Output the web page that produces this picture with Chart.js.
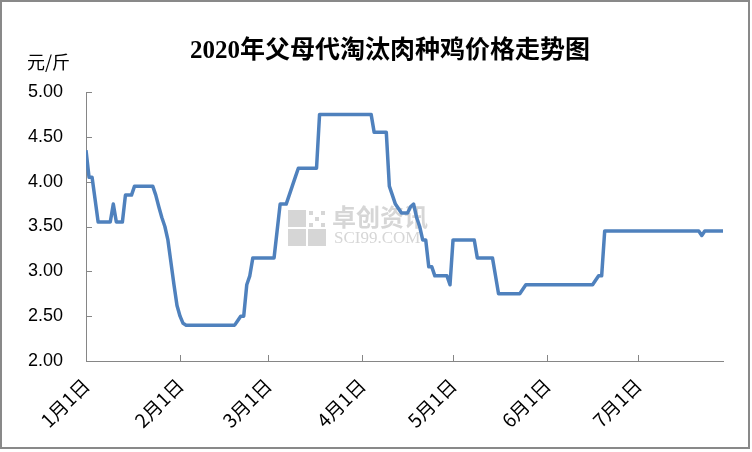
<!DOCTYPE html>
<html>
<head>
<meta charset="utf-8">
<script src="https://cdn.jsdelivr.net/npm/chart.js@4"></script>
<style>
  html, body { margin: 0; padding: 0; background: #fff; }
  #wrap { width: 752px; height: 452px; }
</style>
</head>
<body>
<div id="wrap"><canvas id="line-chart" width="752" height="452"></canvas></div>
<script>
// daily prices from 1月1日 (day 0) to 7月29日 (day 210), 元/斤
var prices = [
  4.35,4.05,4.05,3.8,3.55,3.55,3.55,3.55,3.55,3.75,
  3.55,3.55,3.55,3.85,3.85,3.85,3.95,3.95,3.95,3.95,
  3.95,3.95,3.95,3.85,3.72,3.6,3.5,3.35,3.1,2.85,
  2.62,2.5,2.42,2.4,2.4,2.4,2.4,2.4,2.4,2.4,
  2.4,2.4,2.4,2.4,2.4,2.4,2.4,2.4,2.4,2.4,
  2.45,2.5,2.5,2.85,2.95,3.15,3.15,3.15,3.15,3.15,
  3.15,3.15,3.15,3.45,3.75,3.75,3.75,3.85,3.95,4.05,
  4.15,4.15,4.15,4.15,4.15,4.15,4.15,4.75,4.75,4.75,
  4.75,4.75,4.75,4.75,4.75,4.75,4.75,4.75,4.75,4.75,
  4.75,4.75,4.75,4.75,4.75,4.55,4.55,4.55,4.55,4.55,
  3.95,3.85,3.75,3.7,3.65,3.65,3.65,3.72,3.75,3.6,
  3.5,3.35,3.35,3.05,3.05,2.95,2.95,2.95,2.95,2.95,
  2.85,3.35,3.35,3.35,3.35,3.35,3.35,3.35,3.35,3.15,
  3.15,3.15,3.15,3.15,3.15,2.95,2.75,2.75,2.75,2.75,
  2.75,2.75,2.75,2.75,2.8,2.85,2.85,2.85,2.85,2.85,
  2.85,2.85,2.85,2.85,2.85,2.85,2.85,2.85,2.85,2.85,
  2.85,2.85,2.85,2.85,2.85,2.85,2.85,2.85,2.9,2.95,
  2.95,3.45,3.45,3.45,3.45,3.45,3.45,3.45,3.45,3.45,
  3.45,3.45,3.45,3.45,3.45,3.45,3.45,3.45,3.45,3.45,
  3.45,3.45,3.45,3.45,3.45,3.45,3.45,3.45,3.45,3.45,
  3.45,3.45,3.45,3.4,3.45,3.45,3.45,3.45,3.45,3.45,
  3.45
];
// day index of each month start and its label
var monthDays = [0, 31, 60, 91, 121, 152, 182];
var monthLabels = ['1月1日', '2月1日', '3月1日', '4月1日', '5月1日', '6月1日', '7月1日'];
var yTicks = [2.0, 2.5, 3.0, 3.5, 4.0, 4.5, 5.0];

var points = prices.map(function (v, i) { return { x: i, y: v }; });

var axisColor = '#868686';

var decor = {
  id: 'decor',
  beforeDatasetsDraw: function (chart) {
    var ctx = chart.ctx, a = chart.chartArea, x = chart.scales.x, y = chart.scales.y;
    ctx.save();
    ctx.strokeStyle = axisColor;
    ctx.lineWidth = 1;
    ctx.beginPath();
    x.ticks.forEach(function (t) {
      var px = Math.round(x.getPixelForValue(t.value)) + 0.5;
      ctx.moveTo(px, a.bottom);
      ctx.lineTo(px, a.bottom - 6);
    });
    y.ticks.forEach(function (t) {
      var py = Math.round(y.getPixelForValue(t.value)) + 0.5;
      ctx.moveTo(a.left, py);
      ctx.lineTo(a.left + 6, py);
    });
    ctx.stroke();

    // watermark
    ctx.fillStyle = '#d6d6d6';
    ctx.fillRect(288, 210, 18, 17);
    ctx.fillRect(288, 229, 18, 17);
    ctx.fillRect(308, 229, 18, 17);
    for (var i = 0; i < 3; i++) {
      for (var j = 0; j < 3; j++) {
        if ((i + j) % 2 === 0) ctx.fillRect(309 + i * 6, 211 + j * 6, 4, 4);
      }
    }
    ctx.font = 'bold 24px "Noto Sans CJK SC"';
    ctx.textBaseline = 'middle';
    ctx.textAlign = 'left';
    ctx.fillText('卓创资讯', 332, 217);
    ctx.font = '17px "Liberation Serif"';
    ctx.fillText('SCI99.COM', 334, 239);
    ctx.restore();
  },
  afterDraw: function (chart) {
    var ctx = chart.ctx;
    ctx.save();
    ctx.fillStyle = '#000';
    ctx.textBaseline = 'middle';
    ctx.textAlign = 'center';
    ctx.font = 'bold 25px "Liberation Serif", "Noto Sans CJK SC"';
    ctx.fillText('2020年父母代淘汰肉种鸡价格走势图', 390, 52);
    ctx.textAlign = 'left';
    ctx.font = '18px "Noto Sans CJK SC"';
    ctx.fillText('元/斤', 27, 62);
    ctx.strokeStyle = '#898989';
    ctx.lineWidth = 2;
    ctx.strokeRect(1, 1, 748, 447);
    ctx.restore();
  }
};

new Chart(document.getElementById('line-chart'), {
  type: 'line',
  data: {
    datasets: [{
      data: points,
      borderColor: '#4F81BD',
      borderWidth: 3.5,
      pointRadius: 0,
      tension: 0,
      borderJoinStyle: 'round',
      fill: false
    }]
  },
  options: {
    responsive: false,
    animation: false,
    layout: { padding: { top: 92, right: 29, left: 0, bottom: 0 } },
    plugins: { legend: { display: false }, tooltip: { enabled: false }, title: { display: false } },
    scales: {
      x: {
        type: 'linear',
        min: 0,
        max: prices.length - 1,
        afterBuildTicks: function (scale) {
          scale.ticks = monthDays.map(function (d) { return { value: d }; });
        },
        afterFit: function (scale) { scale.height = 91; },
        grid: { display: true, drawOnChartArea: false, drawTicks: false },
        border: { color: axisColor, width: 1 },
        ticks: {
          autoSkip: false,
          minRotation: 45,
          maxRotation: 45,
          padding: 13,
          color: '#000',
          font: { family: '"Noto Sans CJK SC"', size: 19 },
          callback: function (v) { return monthLabels[monthDays.indexOf(v)]; }
        }
      },
      y: {
        min: 2,
        max: 5,
        afterBuildTicks: function (scale) {
          scale.ticks = yTicks.map(function (v) { return { value: v }; });
        },
        afterFit: function (scale) { scale.width = 86; },
        grid: { display: true, drawOnChartArea: false, drawTicks: false },
        border: { color: axisColor, width: 1 },
        ticks: {
          padding: 23,
          color: '#000',
          font: { family: '"Liberation Sans"', size: 18 },
          callback: function (v) { return v.toFixed(2); }
        }
      }
    }
  },
  plugins: [decor]
});
</script>
</body>
</html>
